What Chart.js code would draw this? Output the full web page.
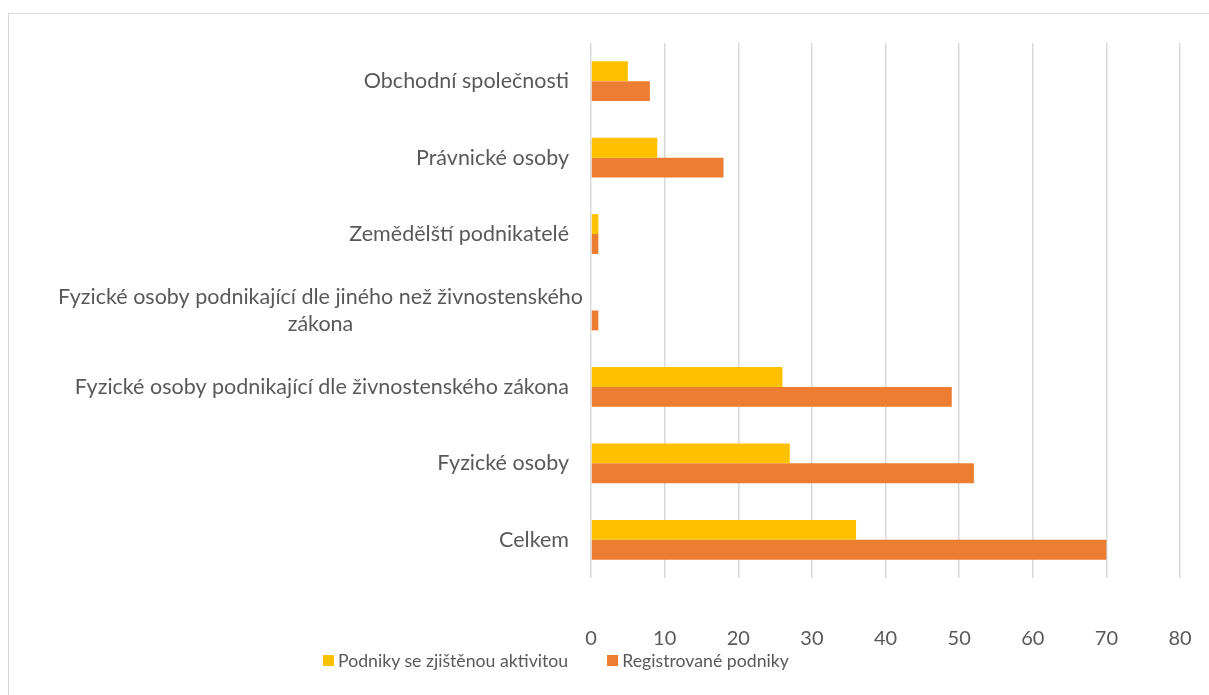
<!DOCTYPE html>
<html>
<head>
<meta charset="utf-8">
<script src="https://cdn.jsdelivr.net/npm/chart.js@4/dist/chart.umd.min.js"></script>
<style>
  html, body { margin: 0; padding: 0; background: #fff; }
  #wrap { position: relative; width: 1209px; height: 695px; overflow: hidden; }
  #frame { position: absolute; left: 8px; top: 13px; width: 1210px; height: 700px;
           border: 1.5px solid #d9d9d9; box-sizing: border-box; }
  canvas { position: absolute; left: 0; top: 0; }
  #legend { position: absolute; left: 323px; top: 650px; display: flex; align-items: center;
            font-family: Lato, sans-serif; font-size: 17.7px; color: #595959; }
  #legend .item { display: flex; align-items: center; margin-right: 39px; }
  #legend .sw { width: 11px; height: 11px; margin-right: 4px; }
</style>
</head>
<body>
<div id="wrap">
  <div id="frame"></div>
  <canvas id="chart" width="1209" height="695"></canvas>
  <div id="legend"></div>
</div>
<script>
// categories, top to bottom
const categories = [
    "Obchodní společnosti",
    "Právnické osoby",
    "Zemědělští podnikatelé",
    ["Fyzické osoby podnikající dle jiného než živnostenského", "zákona"],
    "Fyzické osoby podnikající dle živnostenského zákona",
    "Fyzické osoby",
    "Celkem"
];

const seriesNames = ["Podniky se zjištěnou aktivitou", "Registrované podniky"];
const activeValues = [5, 9, 1, 0, 26, 27, 36];
const registeredValues = [8, 18, 1, 1, 49, 52, 70];
const seriesColors = ["#FFC000", "#ED7D31"];

const xTicks = [0, 10, 20, 30, 40, 50, 60, 70, 80];

const textColor = "#595959";
const fontFamily = "Lato, sans-serif";

// draw the category labels the way Excel does (wrapped label centred)
const categoryLabels = {
    id: "categoryLabels",
    afterDraw(chart) {
        const ctx = chart.ctx;
        const y = chart.scales.y;
        ctx.save();
        ctx.font = "21.5px " + fontFamily;
        ctx.fillStyle = textColor;
        ctx.textBaseline = "middle";
        categories.forEach((lab, i) => {
            const cy = y.getPixelForTick(i);
            if (Array.isArray(lab)) {
                const w = Math.max(...lab.map(l => ctx.measureText(l).width));
                const cx = y.right - 8 - w / 2;
                ctx.textAlign = "center";
                const lh = 27;
                lab.forEach((l, j) => {
                    ctx.fillText(l, cx, cy + (j - (lab.length - 1) / 2) * lh);
                });
            } else {
                ctx.textAlign = "right";
                ctx.fillText(lab, y.right - 22, cy);
            }
        });
        ctx.restore();
    }
};

new Chart(document.getElementById("chart"), {
    type: "bar",
    data: {
        labels: categories,
        datasets: [{
            label: seriesNames[0],
            data: activeValues,
            backgroundColor: seriesColors[0]
        }, {
            label: seriesNames[1],
            data: registeredValues,
            backgroundColor: seriesColors[1]
        }]
    },
    options: {
        indexAxis: "y",
        responsive: false,
        animation: false,
        maintainAspectRatio: false,
        layout: { padding: { left: 591, right: 29, top: 43, bottom: 0 } },
        datasets: {
            bar: { categoryPercentage: 0.52, barPercentage: 1.0 }
        },
        scales: {
            x: {
                min: 0,
                max: 80,
                afterBuildTicks(scale) {
                    scale.ticks = xTicks.map(v => ({ value: v }));
                },
                afterFit(scale) {
                    scale.height = 117;
                    scale.paddingLeft = 0;
                    scale.paddingRight = 0;
                },
                border: { display: false },
                grid: { color: "#d9d9d9", lineWidth: 1.5, drawTicks: false },
                ticks: {
                    padding: 49,
                    maxRotation: 0,
                    color: textColor,
                    font: { family: fontFamily, size: 20 }
                }
            },
            y: {
                display: false
            }
        },
        plugins: {
            legend: { display: false },
            tooltip: { enabled: false }
        }
    },
    plugins: [categoryLabels]
});

// legend as html
const legend = document.getElementById("legend");
seriesNames.forEach((name, i) => {
    const item = document.createElement("div");
    item.className = "item";
    item.innerHTML = '<span class="sw" style="background:' + seriesColors[i] + '"></span>' + name;
    legend.appendChild(item);
});
</script>
</body>
</html>
